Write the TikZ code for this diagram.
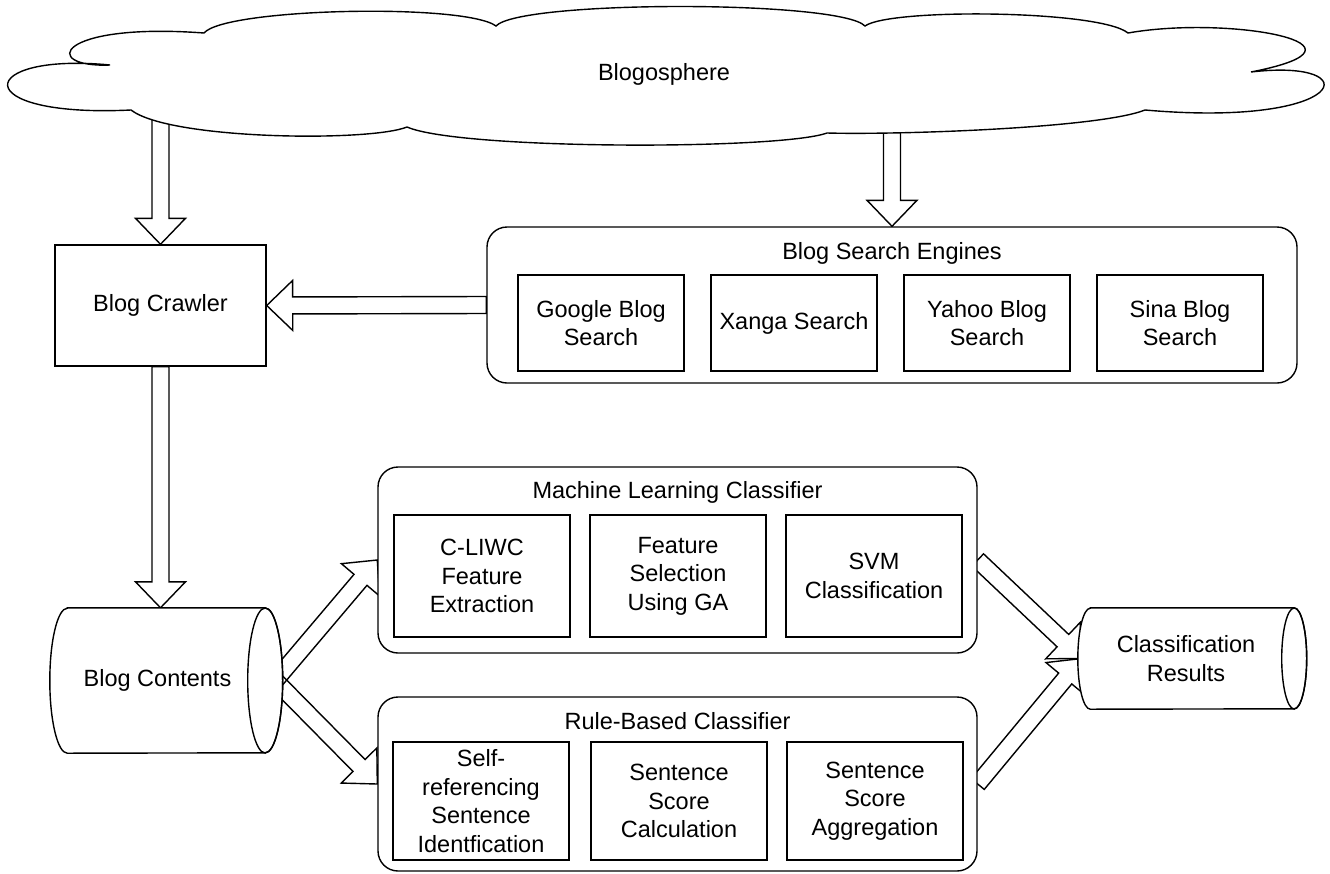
\documentclass[tikz,border=0pt]{standalone}
\usepackage{fontspec}
\setmainfont{Liberation Sans}
\usetikzlibrary{calc}
\pgfdeclarelayer{paper}
\pgfdeclarelayer{arrowlayer}
\pgfdeclarelayer{shapelayer}
\pgfsetlayers{paper,arrowlayer,shapelayer,main}

\tikzset{
  txt/.style={font=\fontsize{23.5}{28.5}\selectfont, align=center, inner sep=0pt, text=black},
  stroke/.style={draw=black, line width=1.4pt},
  sebox/.style={txt, stroke, fill=white, minimum width=166pt, minimum height=96pt},
  mlbox/.style={txt, stroke, fill=white, minimum width=176pt, minimum height=122pt},
  rulebox/.style={txt, stroke, fill=white, minimum width=176pt, minimum height=118pt},
  group/.style={stroke, fill=white, rounded corners=20pt, inner sep=0pt},
  grouptitle/.style={txt, anchor=base},
  blk/.style={stroke, line join=miter},
}

% hollow block arrow from #1 to the tip #2
\newcommand\blockarrow[2]{%
  \coordinate (ba-s) at (#1);
  \coordinate (ba-e) at (#2);
  \coordinate (ba-b) at ($(ba-e)!26pt!(ba-s)$);
  \draw[blk] ($(ba-s)!8.5pt!90:(ba-e)$) -- ($(ba-b)!8.5pt!90:(ba-e)$)
    -- ($(ba-b)!25pt!90:(ba-e)$) -- (ba-e) -- ($(ba-b)!25pt!-90:(ba-e)$)
    -- ($(ba-b)!8.5pt!-90:(ba-e)$) -- ($(ba-s)!8.5pt!-90:(ba-e)$) -- cycle;
}

% storage drum lying on its side: #1 node, #2 end x radius, #3 end y radius
\newcommand\storageoutline[3]{%
  \draw[stroke, fill=white] ([xshift=#2]#1.north west) -- (#1.north east)
    arc[start angle=90, end angle=-90, x radius=#2, y radius=#3]
    -- ([xshift=#2]#1.south west)
    arc[start angle=270, end angle=90, x radius=#2, y radius=#3] -- cycle;
  \draw[stroke] (#1.east) ellipse[x radius=#2, y radius=#3];
}

\begin{document}
\begin{tikzpicture}[x=1pt,y=1pt]
\begin{pgfonlayer}{paper}
  \fill[white] (0,0) rectangle (1330,-873);
\end{pgfonlayer}
\useasboundingbox (0,0) rectangle (1330,-873);

% nodes
\node[txt] (cloud) at (664,-74) {Blogosphere};
\node[txt, stroke, fill=white, minimum width=211pt, minimum height=121pt] (crawler) at (160.5,-305.5) {Blog Crawler};

\node[group, minimum width=810pt, minimum height=156pt] (se) at (892,-305) {};
\node[grouptitle] (setitle) at ($(se.north)+(0,-33)$) {Blog Search Engines};
\node[sebox] (google) at (601,-323) {Google Blog\\Search};
\node[sebox] (xanga) at (794,-323) {Xanga Search};
\node[sebox] (yahoo) at (987,-323) {Yahoo Blog\\Search};
\node[sebox] (sina) at (1180,-323) {Sina Blog\\Search};

\node[group, minimum width=599pt, minimum height=186pt] (ml) at (677.5,-560) {};
\node[grouptitle] (mltitle) at ($(ml.north)+(0,-32)$) {Machine Learning Classifier};
\node[mlbox] (liwc) at (482,-576) {C-LIWC\\Feature\\Extraction};
\node[mlbox] (ga) at (678,-576) {Feature\\Selection\\Using GA};
\node[mlbox] (svm) at (874,-576) {SVM\\Classification};

\node[group, minimum width=599pt, minimum height=174pt] (rule) at (677.5,-784) {};
\node[grouptitle] (ruletitle) at ($(rule.north)+(0,-33)$) {Rule-Based Classifier};
\node[rulebox] (selfref) at (481,-801) {Self-\\referencing\\Sentence\\Identfication};
\node[rulebox] (scorecalc) at (679,-801) {Sentence\\Score\\Calculation};
\node[rulebox] (scoreagg) at (875,-801) {Sentence\\Score\\Aggregation};

\node[txt, minimum width=215pt, minimum height=145pt] (contents) at (157.5,-680.5) {Blog Contents};
\node[txt, minimum width=216pt, minimum height=101pt] (results) at (1186,-658.5) {Classification\\Results};

\coordinate (contents-out) at ($(contents.east)+(10,0)$);
\coordinate (results-in) at ($(results.west)+(4,0)$);

% outlines of the cloud and the storage drums
\begin{pgfonlayer}{shapelayer}
  \draw[stroke, fill=white] (131,-110)
    .. controls (-35,-118) and (-25,-52) .. (110,-65)
    .. controls (40,-68) and (55,-22) .. (204,-33)
    .. controls (225,-8) and (465,-3) .. (496,-26)
    .. controls (520,0) and (840,0) .. (865,-26)
    .. controls (890,-8) and (1100,-10) .. (1128,-33)
    .. controls (1230,-15) and (1390,-45) .. (1251,-72)
    .. controls (1370,-58) and (1350,-128) .. (1145,-110)
    .. controls (1100,-128) and (900,-135) .. (827,-133)
    .. controls (780,-150) and (460,-150) .. (407,-127)
    .. controls (370,-142) and (170,-140) .. (131,-110) -- cycle;
  \storageoutline{contents}{17.5pt}{72.5pt}
  \storageoutline{results}{12.5pt}{50.5pt}
\end{pgfonlayer}

% block arrows
\begin{pgfonlayer}{arrowlayer}
  \blockarrow{crawler.north |- cloud.center}{crawler.north}
  \blockarrow{se.north |- cloud.center}{se.north}
  \blockarrow{se.west}{crawler.east}
  \blockarrow{crawler.south}{crawler.south |- contents.north}
  \blockarrow{contents-out}{ml.west}
  \blockarrow{contents-out}{rule.west}
  \blockarrow{ml.east}{results-in}
  \blockarrow{rule.east}{results-in}
\end{pgfonlayer}
\end{tikzpicture}
\end{document}
